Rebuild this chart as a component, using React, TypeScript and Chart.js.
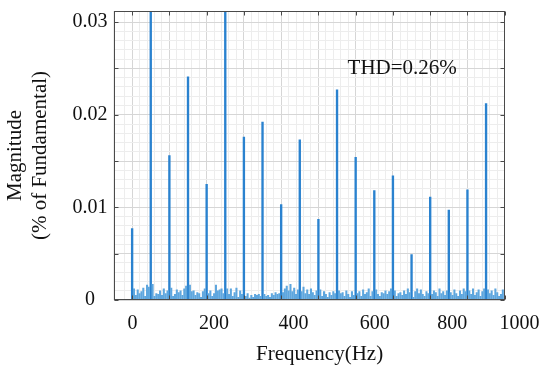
import React, { useEffect, useRef } from 'react';
import { Chart, registerables } from 'chart.js';

Chart.register(...registerables);

// ---- data ----
const HARMONIC_HZ = [0, 50, 100, 150, 200, 250, 300, 350, 400, 450, 500, 550, 600, 650, 700, 750, 800, 850, 900, 950];
const HARMONIC_MAG = [0.0077, 0.033, 0.0156, 0.0241, 0.0125, 0.033, 0.0176, 0.0192, 0.0103, 0.0173, 0.0087, 0.0227, 0.0154, 0.0118, 0.0134, 0.0049, 0.0111, 0.0097, 0.0119, 0.0212];

// FFT bin spacing; noise bins are the bins between harmonics (5..995 Hz, not multiples of 50)
const BIN_HZ = 5;
const NOISE_MAG = [
  0.0012, 0.0005, 0.0011, 0.0007, 0.0009, 0.0013, 0.0004, 0.0016, 0.0014,
  0.0017, 0.0004, 0.0007, 0.0006, 0.001, 0.0005, 0.0012, 0.0007, 0.001,
  0.0013, 0.0004, 0.0006, 0.0011, 0.0008, 0.001, 0.0005, 0.0012, 0.0015,
  0.0016, 0.0009, 0.001, 0.0005, 0.0008, 0.0007, 0.0003, 0.0009, 0.0012,
  0.0007, 0.001, 0.0004, 0.0007, 0.0016, 0.001, 0.0011, 0.0012, 0.0007,
  0.0012, 0.0006, 0.0012, 0.0004, 0.0008, 0.0013, 0.0003, 0.001, 0.0006,
  0.0004, 0.0007, 0.0002, 0.0005, 0.0003, 0.0006, 0.0005, 0.0006, 0.0004,
  0.0006, 0.0004, 0.0005, 0.0003, 0.0007, 0.0005, 0.0008, 0.0006, 0.0007,
  0.0008, 0.0012, 0.0015, 0.001, 0.0017, 0.0009, 0.0013, 0.0006, 0.0011,
  0.0009, 0.0014, 0.0007, 0.0011, 0.0006, 0.0012, 0.0008, 0.0005, 0.001,
  0.0011, 0.0004, 0.0009, 0.0006, 0.0003, 0.0008, 0.0005, 0.0009, 0.0007,
  0.001, 0.0007, 0.0008, 0.0004, 0.001, 0.0006, 0.0003, 0.0009, 0.0005,
  0.0007, 0.0009, 0.0004, 0.0011, 0.0006, 0.0008, 0.0012, 0.0004, 0.0009,
  0.0011, 0.0006, 0.0004, 0.0008, 0.0007, 0.001, 0.0006, 0.0009, 0.0012,
  0.001, 0.0004, 0.0007, 0.0008, 0.0005, 0.001, 0.0006, 0.0012, 0.0008,
  0.0003, 0.0009, 0.0012, 0.0007, 0.0011, 0.0006, 0.0004, 0.0009, 0.0007,
  0.0006, 0.001, 0.0008, 0.0004, 0.0012, 0.0007, 0.0009, 0.0005, 0.001,
  0.0008, 0.0005, 0.0011, 0.0007, 0.0004, 0.001, 0.0006, 0.0012, 0.0009,
  0.001, 0.0006, 0.0012, 0.0005, 0.0008, 0.0011, 0.0004, 0.0009, 0.0012,
  0.0011, 0.0007, 0.001, 0.0005, 0.0012, 0.0008, 0.0004, 0.0006, 0.0011,
];

// tick labels as printed in the reference, and the frequency at which each is printed
const X_TICK_LABELS = ['0', '200', '400', '600', '800', '1000'];
const X_TICK_AT_HZ = [1, 220, 433, 651, 859, 1040];

const X_MIN = -50;
const X_MAX = 1000;
const Y_MAX = 0.0312;
const THD_TEXT = 'THD=0.26%';
const THD_AT = { hz: 725, mag: 0.025 };
const X_TITLE = '    Frequency(Hz)';
const Y_TITLE = ['Magnitude', '(% of Fundamental)'];

const FONT = 'Liberation Serif';
const MAJOR_GRID = '#d6d6d6';
const MINOR_GRID = '#ededed';

function buildNoise() {
  const pts: { x: number; y: number }[] = [];
  let k = 0;
  for (let f = BIN_HZ; f < X_MAX; f += BIN_HZ) {
    if (f % 50 === 0) continue;
    if (k >= NOISE_MAG.length) break;
    pts.push({ x: f, y: NOISE_MAG[k++] });
  }
  return pts;
}

const decorPlugin = {
  id: 'decor',
  afterDraw(chart: any) {
    const { ctx, chartArea: a, scales } = chart;
    const L = Math.round(a.left) + 0.5;
    const R = Math.round(a.right) - 0.5;
    const T = Math.round(a.top) + 0.5;
    const B = Math.round(a.bottom) - 0.5;
    ctx.save();
    ctx.strokeStyle = '#4a4a4a';
    ctx.lineWidth = 1;
    ctx.beginPath();
    for (let k = 0; k <= 6; k++) {
      const y = Math.round(scales.y.getPixelForValue(k * 0.005)) + 0.5;
      ctx.moveTo(L, y); ctx.lineTo(L + 4, y);
      ctx.moveTo(R, y); ctx.lineTo(R - 4, y);
    }
    for (let f = 0; f <= X_MAX; f += 100) {
      const x = Math.round(scales.x.getPixelForValue(f)) + 0.5;
      ctx.moveTo(x, T); ctx.lineTo(x, T + 4);
      ctx.moveTo(x, B); ctx.lineTo(x, B - 4);
    }
    ctx.stroke();
    ctx.strokeRect(L, T, R - L, B - T);
    ctx.fillStyle = '#111';
    ctx.font = `21px "${FONT}"`;
    ctx.textAlign = 'center';
    ctx.textBaseline = 'middle';
    ctx.fillText(THD_TEXT, scales.x.getPixelForValue(THD_AT.hz), scales.y.getPixelForValue(THD_AT.mag));
    ctx.restore();
  },
};

export default function App() {
  const ref = useRef<HTMLCanvasElement | null>(null);
  useEffect(() => {
    if (!ref.current) return;
    const harmonics = HARMONIC_HZ.map((f, i) => ({ x: f, y: HARMONIC_MAG[i] }));
    const chart = new Chart(ref.current, {
      type: 'bar',
      data: {
        datasets: [
          {
            label: 'noise',
            data: buildNoise(),
            backgroundColor: '#5ea6de',
            borderWidth: 0,
            barThickness: 1.4,
            grouped: false,
          } as any,
          {
            label: 'harmonics',
            data: harmonics,
            backgroundColor: '#2a82cf',
            borderWidth: 0,
            barThickness: 1.7,
            grouped: false,
          } as any,
        ],
      },
      options: {
        responsive: false,
        animation: false,
        events: [],
        layout: { padding: { top: 11, right: 42, bottom: 0, left: 0 } },
        plugins: { legend: { display: false }, tooltip: { enabled: false } },
        scales: {
          x: {
            type: 'linear',
            position: 'bottom',
            min: X_MIN,
            max: X_MAX,
            offset: false,
            ticks: { display: false, stepSize: 20 },
            grid: {
              offset: false,
              drawTicks: false,
              color: (c: any) => (Math.round(c.tick.value) % 100 === 0 ? MAJOR_GRID : MINOR_GRID),
            },
            border: { display: false },
            afterFit: (s: any) => { s.height = 0; },
          },
          x2: {
            type: 'linear',
            position: 'bottom',
            min: X_MIN,
            max: X_MAX,
            offset: false,
            grid: { display: false, drawTicks: false, offset: false },
            border: { display: false },
            afterBuildTicks: (s: any) => { s.ticks = X_TICK_AT_HZ.map((v) => ({ value: v })); },
            ticks: {
              autoSkip: false,
              maxRotation: 0,
              minRotation: 0,
              padding: 12,
              color: '#111',
              font: { family: FONT, size: 20 },
              callback: (_v: any, i: number) => X_TICK_LABELS[i],
            },
            title: {
              display: true,
              text: X_TITLE,
              color: '#111',
              font: { family: FONT, size: 21 },
              padding: { top: 2, bottom: 0 },
            },
            afterFit: (s: any) => { s.height = 67; },
          },
          y: {
            type: 'linear',
            position: 'left',
            min: 0,
            max: Y_MAX,
            ticks: {
              stepSize: 0.001,
              autoSkip: false,
              crossAlign: 'center',
              padding: 0,
              color: '#111',
              font: { family: FONT, size: 20, lineHeight: 1 },
              callback: (v: any) => {
                const k = Math.round(Number(v) * 1000);
                if (k % 10 !== 0 || k > 30) return '';
                return k === 0 ? '0' : (k / 1000).toFixed(2);
              },
            },
            grid: {
              drawTicks: true,
              tickLength: 6,
              tickColor: 'rgba(0,0,0,0)',
              color: (c: any) => (Math.round(c.tick.value * 1000) % 5 === 0 ? MAJOR_GRID : MINOR_GRID),
            },
            border: { display: false },
            title: {
              display: true,
              text: Y_TITLE,
              color: '#111',
              font: { family: FONT, size: 21 },
              padding: { top: 3, bottom: 0 },
            },
            afterFit: (s: any) => { s.width = 113.5; },
          },
        },
      } as any,
      plugins: [decorPlugin],
    });
    return () => chart.destroy();
  }, []);

  return (
    <div style={{ position: 'absolute', left: 0, top: 0, width: 550, height: 367, background: '#fff' }}>
      <canvas ref={ref} width={550} height={367} style={{ display: 'block' }} />
    </div>
  );
}
